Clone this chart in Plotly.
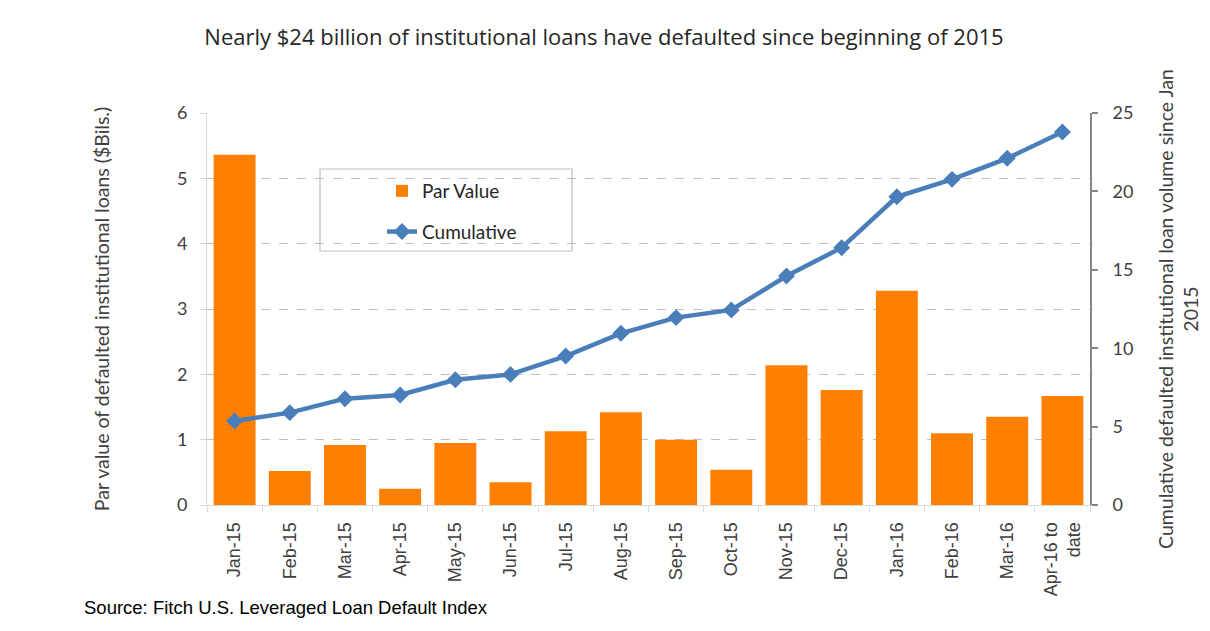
import plotly.graph_objects as go

categories = ["Jan-15", "Feb-15", "Mar-15", "Apr-15", "May-15", "Jun-15", "Jul-15", "Aug-15",
              "Sep-15", "Oct-15", "Nov-15", "Dec-15", "Jan-16", "Feb-16", "Mar-16", "Apr-16 to<br>date"]
par_value = [5.36, 0.52, 0.92, 0.25, 0.95, 0.35, 1.13, 1.42,
             1.00, 0.54, 2.14, 1.76, 3.28, 1.10, 1.35, 1.67]
cumulative = [5.36, 5.89, 6.78, 7.02, 7.99, 8.33, 9.50, 10.95,
              11.95, 12.44, 14.60, 16.41, 19.66, 20.77, 22.11, 23.79]
left_ticks = [0, 1, 2, 3, 4, 5, 6]
right_ticks = [0, 5, 10, 15, 20, 25]

title_text = "Nearly $24 billion of institutional loans have defaulted since beginning of 2015"
source_text = "Source: Fitch U.S. Leveraged Loan Default Index"

# page body has an 8px margin; size the figure so it fits in the 1210x631 window
OFF = 8
W, H = 1210 - 2 * OFF, 631 - 2 * OFF
# plot-area edges in window pixels
PL, PR, PT, PB = 207, 1090, 113, 505
L, R, T, B = PL - OFF, W - (PR - OFF), PT - OFF, H - (PB - OFF)
pw, ph = W - L - R, H - T - B

def px_x(x):
    return (x - OFF - L) / pw

def px_y(y):
    return (H - B - (y - OFF)) / ph

fig = go.Figure()
fig.add_trace(go.Bar(
    x=categories, y=par_value, name="Par Value",
    marker=dict(color="#FF8000", line=dict(width=0)),
    legendgroup="a", yaxis="y",
))
fig.add_trace(go.Scatter(
    x=categories, y=cumulative, name="Cumulative", mode="lines+markers",
    line=dict(color="#4A7EBB", width=4.5),
    marker=dict(symbol="diamond", size=13, color="#4A7EBB"),
    legendgroup="b", yaxis="y2",
))

axis_font = dict(family="Lato, 'Noto Sans', sans-serif", size=19.5, color="#404040")
tick_font = dict(family="Lato, 'Noto Sans', sans-serif", size=18, color="#404040")

fig.update_layout(
    width=W, height=H,
    margin=dict(l=L, r=R, t=T, b=B, autoexpand=False),
    paper_bgcolor="white", plot_bgcolor="white",
    bargap=0.24,
    showlegend=True,
    title=dict(text=title_text, x=(604 - OFF) / W, xanchor="center", xref="container",
               y=1 - (37 - OFF) / H, yanchor="middle",
               font=dict(family="'Open Sans', Lato, sans-serif", size=22, color="#262626")),
    xaxis=dict(
        type="category", range=[-0.5, len(categories) - 0.5], tickangle=-90, tickson="boundaries",
        ticks="outside", ticklen=6, tickcolor="#D9D9D9",
        showline=True, linecolor="#D9D9D9", linewidth=1,
        showgrid=False, automargin=False, ticklabelstandoff=9,
        tickfont=dict(family="'Liberation Sans', Arial, sans-serif", size=18, color="#404040"),
    ),
    yaxis=dict(
        range=[0, 6], tickvals=left_ticks,
        showline=True, linecolor="#D9D9D9", linewidth=1,
        ticks="outside", ticklen=6, tickcolor="#D9D9D9",
        showgrid=True, gridcolor="#BFBFBF", griddash="dash", gridwidth=1,
        zeroline=False, automargin=False, ticklabelstandoff=9,
        tickfont=tick_font,
        title=dict(text="Par value of defaulted institutional loans ($Bils.)", font=axis_font, standoff=62),
    ),
    yaxis2=dict(
        range=[0, 25], tickvals=right_ticks, overlaying="y", side="right",
        showline=True, linecolor="#868686", linewidth=2,
        ticks="outside", ticklen=6, tickcolor="#868686", tickwidth=2,
        showgrid=False, zeroline=False, automargin=False, ticklabelstandoff=11,
        tickfont=tick_font,
        title=dict(text="Cumulative defaulted institutional loan volume since Jan<br>2015", font=axis_font, standoff=35),
    ),
    legend=dict(
        x=px_x(382), y=px_y(172), xanchor="left", yanchor="top",
        bgcolor="rgba(0,0,0,0)", borderwidth=0,
        traceorder="grouped", tracegroupgap=13,
        font=dict(family="Lato, 'Noto Sans', sans-serif", size=19, color="#262626"),
    ),
    shapes=[dict(type="rect", xref="paper", yref="paper",
                 x0=px_x(320), x1=px_x(572), y0=px_y(251), y1=px_y(169),
                 line=dict(color="#BFBFBF", width=1.2), fillcolor="white", layer="below")],
    annotations=[dict(text=source_text, xref="paper", yref="paper",
                      x=px_x(82), y=px_y(607), xanchor="left", yanchor="middle", showarrow=False,
                      font=dict(family="'Liberation Sans', Arial, sans-serif", size=18.5, color="#000000"))],
)

fig.write_html("out.html")
